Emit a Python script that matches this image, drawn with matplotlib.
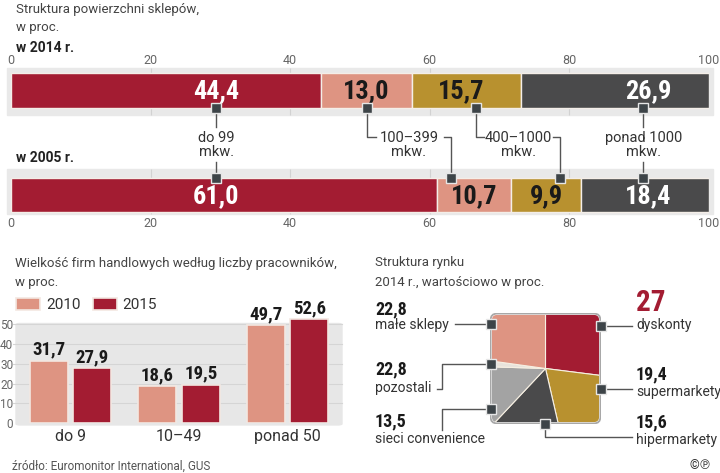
import numpy as np
import matplotlib
matplotlib.use("Agg")
import matplotlib.pyplot as plt
from matplotlib import font_manager
from matplotlib.patches import Rectangle, FancyBboxPatch

# --- data ---
bar_years = ['w 2014 r.', 'w 2005 r.']
size_classes = ['do 99\nmkw.', '100–399\nmkw.', '400–1000\nmkw.', 'ponad 1000\nmkw.']
share_2014 = [44.4, 13.0, 15.7, 26.9]
share_2005 = [61.0, 10.7, 9.9, 18.4]

emp_groups = ['do 9', '10–49', 'ponad 50']
emp_years = ['2010', '2015']
emp_2010 = [31.7, 18.6, 49.7]
emp_2015 = [27.9, 19.5, 52.6]

market_names = ['dyskonty', 'supermarkety', 'hipermarkety', 'sieci convenience', 'pozostali', 'małe sklepy']
market_share = [27.0, 19.4, 15.6, 13.5, 1.7, 22.8]        # slice sizes as drawn
market_printed = ['27', '19,4', '15,6', '13,5', '22,8', '22,8']  # numbers as printed

RED = '#a31c32'
PINK = '#de9482'
GOLD = '#b8912f'
DARK = '#4a4a4b'
LGRAY = '#a3a3a3'
PALE = '#e8e3dc'
MARK = '#3d4448'
TXT = '#333333'


def pick(names):
    for n in names:
        try:
            font_manager.findfont(n, fallback_to_default=False)
            return n
        except ValueError:
            pass
    return 'DejaVu Sans'


NARROW = pick(['Liberation Sans Narrow', 'Roboto Condensed', 'DejaVu Sans'])
REG = pick(['Roboto', 'Lato', 'DejaVu Sans'])
plt.rcParams['font.family'] = [REG, 'DejaVu Sans']

W, H = 720, 473


def box(x0, y0, x1, y1):
    return [x0 / W, 1 - y1 / H, (x1 - x0) / W, (y1 - y0) / H]


def fmt(v):
    return f'{v:.1f}'.replace('.', ',')


fig = plt.figure(figsize=(7.2, 4.73), dpi=100)

# ---------------- top: stacked bars ----------------
axt = fig.add_axes(box(11, 68, 709, 216))
axt.set_xlim(0, 100)
axt.set_ylim(216, 68)
for s in axt.spines.values():
    s.set_visible(False)
axt.set_yticks([])
axt.set_xticks(range(0, 101, 20))
axt.tick_params(axis='x', labeltop=True, labelbottom=True, top=False, bottom=False,
                length=0, pad=1, labelsize=9, labelcolor='#666666')

seg_colors = [RED, PINK, GOLD, DARK]
txt_colors = ['white', '#1a1a1a', '#1a1a1a', 'white']
rows = [(share_2014, 90.5, 35, (68, 115)), (share_2005, 195, 34, (169, 214))]
label_x = [[29.4, 50.9, 64.5, 91.3], [29.4, 66.3, 76.7, 91.3]]

for (vals, yc, h, band), lx in zip(rows, label_x):
    axt.add_patch(Rectangle((-0.6, band[0]), 101.2, band[1] - band[0],
                            color='#e9e9e9', zorder=0, clip_on=False))
    axt.vlines([20, 40, 60, 80], band[0], band[1], color='#d2d2d2', lw=0.8, zorder=1)
    left = np.concatenate([[0], np.cumsum(vals)[:-1]])
    axt.barh(yc, vals, left=left, height=h, color=seg_colors,
             edgecolor='#f4eee8', linewidth=1, zorder=2)
    for v, x, c in zip(vals, lx, txt_colors):
        axt.text(x, yc + 1, fmt(v), ha='center', va='center', color=c,
                 fontsize=19, fontweight='bold', family=[NARROW, 'DejaVu Sans'], zorder=3)

# connectors between the two bars
lc = '#555555'
y_top, y_bot, y_txt = 108, 178, 137
m14 = [29.4, 51.0, 66.6, 90.6]
m05 = [29.4, 63.0, 78.7, 90.6]
text_x = [29.4, 57.0, 72.7, 90.6]

for i, lab in enumerate(size_classes):
    axt.text(text_x[i], 145, lab, ha='center', va='center', fontsize=10.5,
             color=TXT, linespacing=1.0, zorder=4)
axt.plot([m14[0], m14[0]], [y_top, 127], color=lc, lw=1, clip_on=False)
axt.plot([m05[0], m05[0]], [162, y_bot], color=lc, lw=1, clip_on=False)
axt.plot([m14[3], m14[3]], [y_top, 127], color=lc, lw=1, clip_on=False)
axt.plot([m05[3], m05[3]], [162, y_bot], color=lc, lw=1, clip_on=False)
axt.plot([m14[1], m14[1], 52.3], [y_top, y_txt, y_txt], color=lc, lw=1, clip_on=False)
axt.plot([62.0, m05[1], m05[1]], [y_txt, y_txt, y_bot], color=lc, lw=1, clip_on=False)
axt.plot([m14[2], m14[2], 67.8], [y_top, y_txt, y_txt], color=lc, lw=1, clip_on=False)
axt.plot([77.6, m05[2], m05[2]], [y_txt, y_txt, y_bot], color=lc, lw=1, clip_on=False)
axt.plot(m14, [y_top] * 4, 's', ms=7, mfc=MARK, mec='#e6e6e6', mew=1, clip_on=False, zorder=6)
axt.plot(m05, [y_bot] * 4, 's', ms=7, mfc=MARK, mec='#e6e6e6', mew=1, clip_on=False, zorder=6)

# ---------------- bottom left: grouped bars ----------------
axb = fig.add_axes(box(16, 316.6, 342, 423))
axb.set_xlim(-0.5, 2.5)
axb.set_ylim(0, 54)
for s in axb.spines.values():
    s.set_visible(False)
axb.add_patch(FancyBboxPatch((-0.5, -1.0), 3.0, 51.5,
                             boxstyle='round,pad=0,rounding_size=0.04',
                             color='#e7e7e7', zorder=0, clip_on=False, mutation_aspect=15))
for g in range(10, 51, 10):
    axb.plot([-0.53, 2.5], [g, g], color='#d5d5d5', lw=0.8, zorder=0.5, clip_on=False)
x = np.arange(len(emp_groups))
bw = 0.35
b1 = axb.bar(x - 0.2, emp_2010, bw, color=PINK, edgecolor='#f3e8e2', lw=1.2, zorder=2,
             label=emp_years[0])
b2 = axb.bar(x + 0.2, emp_2015, bw, color=RED, edgecolor='#f3e8e2', lw=1.2, zorder=2,
             label=emp_years[1])
for xs, vals in ((x - 0.2, emp_2010), (x + 0.2, emp_2015)):
    for xi, v in zip(xs, vals):
        axb.text(xi, v + 0.9, fmt(v), ha='center', va='bottom', fontsize=13.5,
                 fontweight='bold', family=[NARROW, 'DejaVu Sans'], color='#1a1a1a')
axb.set_xticks(x, emp_groups)
axb.set_yticks(range(0, 51, 10))
axb.tick_params(axis='x', length=0, pad=4, labelsize=11.5, labelcolor=TXT)
axb.tick_params(axis='y', length=0, pad=2, labelsize=8.5, labelcolor='#666666')
leg = axb.legend(handles=[b1, b2], loc='center left', bbox_to_anchor=(16 / W, 1 - 305 / H),
                 bbox_transform=fig.transFigure, ncol=2, frameon=False, fontsize=11,
                 handlelength=1.6, handleheight=0.9, handletextpad=0.35, columnspacing=0.8,
                 borderpad=0, borderaxespad=0)
for t in leg.get_texts():
    t.set_color(TXT)

# ---------------- bottom right: pie in rounded square ----------------
axp = fig.add_axes(box(490, 313, 601, 424))
axp.add_patch(FancyBboxPatch((-0.99, -0.99), 1.98, 1.98,
                             boxstyle='round,pad=0,rounding_size=0.12',
                             fc='white', ec='#a8a8a8', lw=1.3, zorder=0))
clip = FancyBboxPatch((-0.965, -0.965), 1.93, 1.93, boxstyle='round,pad=0,rounding_size=0.09',
                      transform=axp.transData, fc='none', ec='none')
wedges, _ = axp.pie(market_share, colors=[RED, GOLD, DARK, LGRAY, PALE, PINK],
                    startangle=90, counterclock=False, radius=1.6,
                    wedgeprops=dict(edgecolor='#f6efe2', linewidth=0.8))
for w in wedges:
    w.set_clip_on(True)
    w.set_clip_path(clip)
axp.set_xlim(-1, 1)
axp.set_ylim(-1, 1)
axp.set_aspect('equal')
axp.axis('off')

# ---------------- overlay: titles, pie labels ----------------
ov = fig.add_axes([0, 0, 1, 1])
ov.set_xlim(0, W)
ov.set_ylim(H, 0)
ov.axis('off')
ov.patch.set_visible(False)

ts = 9.5
ov.text(16, 9, 'Struktura powierzchni sklepów,', fontsize=ts, color='#444444', va='center')
ov.text(16, 28, 'w proc.', fontsize=ts, color='#444444', va='center')
ov.text(16, 48, bar_years[0], fontsize=10, fontweight='bold', color='#222222', va='center')
ov.text(16, 158, bar_years[1], fontsize=10, fontweight='bold', color='#222222', va='center')
ov.text(15, 263, 'Wielkość firm handlowych według liczby pracowników,', fontsize=ts,
        color='#444444', va='center')
ov.text(15, 282, 'w proc.', fontsize=ts, color='#444444', va='center')
ov.text(375, 262, 'Struktura rynku', fontsize=ts, color='#444444', va='center')
ov.text(375, 282, '2014 r., wartościowo w proc.', fontsize=ts, color='#444444', va='center')
ov.text(12, 466, 'źródło: Euromonitor International, GUS', fontsize=8.5, color='#555555',
        va='center')
ov.text(712, 465, '©℗', fontsize=9, color='#333333', va='center', ha='right')

# label anchors: (x, value y, name y)
anchors = [(636, 303, 325), (636, 374, 392), (636, 422, 440),
           (375, 421, 439), (375, 369, 388), (375, 309, 325)]
for name, val, (ax_, yv, yn) in zip(market_names, market_printed, anchors):
    big = name == 'dyskonty'
    ov.text(ax_, yv, val, fontsize=21 if big else 13, fontweight='bold',
            family=[NARROW, 'DejaVu Sans'], color=RED if big else '#1a1a1a', va='center')
    ov.text(ax_, yn, name, fontsize=10, color=TXT, va='center')

pie_lines = [
    ([601, 632], [326, 326]),
    ([601, 632], [389, 389]),
    ([545, 545, 632], [424, 437, 437]),
    ([491, 442, 442], [409, 409, 430]),
    ([491, 442, 442, 437], [364, 364, 389, 389]),
    ([491, 455], [324, 324]),
]
for xs, ys in pie_lines:
    ov.plot(xs, ys, color=lc, lw=1)
    ov.plot(xs[0], ys[0], 's', ms=7, mfc=MARK, mec='#e6e6e6', mew=1, zorder=6)

fig.savefig('out.png', dpi=100)
